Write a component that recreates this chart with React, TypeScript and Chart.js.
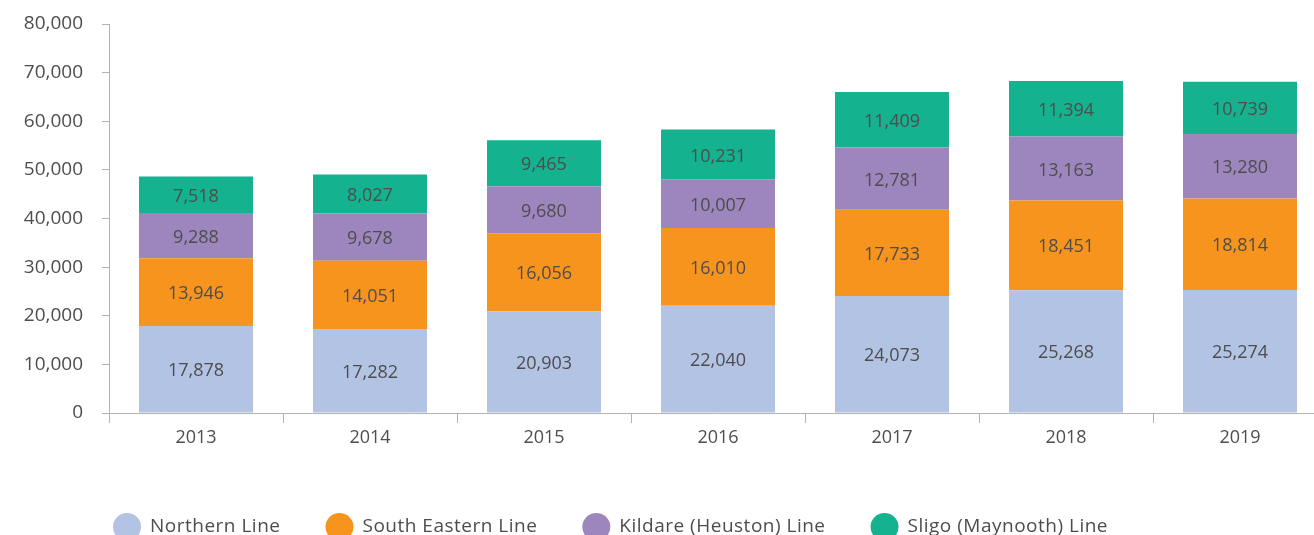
import React, { useEffect, useRef } from "react";
import { Chart, registerables } from "chart.js";

Chart.register(...registerables);

const categories = ["2013", "2014", "2015", "2016", "2017", "2018", "2019"];
const northernLine = [17878, 17282, 20903, 22040, 24073, 25268, 25274];
const southEasternLine = [13946, 14051, 16056, 16010, 17733, 18451, 18814];
const kildareLine = [9288, 9678, 9680, 10007, 12781, 13163, 13280];
const sligoLine = [7518, 8027, 9465, 10231, 11409, 11394, 10739];
const seriesNames = [
  "Northern Line",
  "South Eastern Line",
  "Kildare (Heuston) Line",
  "Sligo (Maynooth) Line",
];
const seriesColors = ["#B3C3E3", "#F7941E", "#9D86BD", "#15B28F"];
const yMax = 80000;
const yStep = 10000;

const FONT_FAMILY = "'Open Sans', sans-serif";
const FONT_SIZE = 18;
const TEXT_COLOR = "#4d4d4d";
const AXIS_COLOR = "#b3b3b3";

const fmt = (v: number) => Number(v).toLocaleString("en-US");

const barLabelPlugin = {
  id: "barLabels",
  afterDatasetsDraw(chart: any) {
    const ctx = chart.ctx;
    ctx.save();
    ctx.font = `${FONT_SIZE}px ${FONT_FAMILY}`;
    ctx.fillStyle = TEXT_COLOR;
    ctx.textAlign = "center";
    ctx.textBaseline = "middle";
    chart.data.datasets.forEach((ds: any, i: number) => {
      const meta = chart.getDatasetMeta(i);
      meta.data.forEach((el: any, j: number) => {
        const { x, y, base } = el.getProps(["x", "y", "base"], true);
        ctx.fillText(fmt(ds.data[j]), x, (y + base) / 2 + 2);
      });
    });
    ctx.restore();
  },
};

const legendPlugin = {
  id: "bottomLegend",
  afterDraw(chart: any) {
    const ctx = chart.ctx;
    const r = 14;
    const cy = 527;
    const textGap = 9;
    const itemGap = 45;
    let x = 113;
    ctx.save();
    ctx.font = `19px ${FONT_FAMILY}`;
    try {
      (ctx as any).letterSpacing = "0.5px";
    } catch (e) {}
    ctx.textAlign = "left";
    ctx.textBaseline = "middle";
    chart.data.datasets.forEach((ds: any) => {
      ctx.fillStyle = ds.backgroundColor;
      ctx.beginPath();
      ctx.arc(x + r, cy, r, 0, Math.PI * 2);
      ctx.fill();
      ctx.fillStyle = TEXT_COLOR;
      const tx = x + 2 * r + textGap;
      ctx.fillText(ds.label, tx, cy);
      x = tx + ctx.measureText(ds.label).width + itemGap;
    });
    ctx.restore();
  },
};

export default function App() {
  const canvasRef = useRef<HTMLCanvasElement | null>(null);

  useEffect(() => {
    if (!canvasRef.current) return;
    const values = [northernLine, southEasternLine, kildareLine, sligoLine];
    const font = { family: FONT_FAMILY, size: FONT_SIZE };
    const chart = new Chart(canvasRef.current, {
      type: "bar",
      data: {
        labels: categories,
        datasets: values.map((d, i) => ({
          label: seriesNames[i],
          data: d,
          backgroundColor: seriesColors[i],
          borderWidth: 0,
          barPercentage: 0.655,
          categoryPercentage: 1,
        })),
      },
      options: {
        responsive: false,
        animation: false,
        layout: { padding: { top: 24, right: 3, left: 0, bottom: 0 } },
        plugins: {
          legend: { display: false },
          tooltip: { enabled: false },
        },
        scales: {
          x: {
            stacked: true,
            grid: {
              offset: true,
              drawOnChartArea: false,
              drawTicks: true,
              tickLength: 10,
              color: AXIS_COLOR,
            },
            border: { color: AXIS_COLOR, width: 1 },
            ticks: { font, color: TEXT_COLOR, padding: 4 },
            afterFit: (scale: any) => {
              scale.height = 122;
              scale.paddingLeft = 0;
              scale.paddingRight = 0;
            },
          },
          y: {
            stacked: true,
            min: 0,
            max: yMax,
            grid: {
              drawOnChartArea: false,
              drawTicks: true,
              tickLength: 7,
              color: AXIS_COLOR,
            },
            border: { color: AXIS_COLOR, width: 1 },
            ticks: {
              stepSize: yStep,
              font: { family: FONT_FAMILY, size: 19 },
              color: TEXT_COLOR,
              padding: 19,
              callback: (v: any) => fmt(Number(v)),
            },
            afterFit: (scale: any) => {
              scale.width = 109;
              scale.paddingTop = 0;
              scale.paddingBottom = 0;
            },
          },
        },
      },
      plugins: [barLabelPlugin, legendPlugin],
    } as any);
    return () => chart.destroy();
  }, []);

  return (
    <div
      style={{
        position: "absolute",
        left: 0,
        top: 0,
        width: 1314,
        height: 535,
        overflow: "hidden",
        background: "#fff",
      }}
    >
      <canvas
        ref={canvasRef}
        width={1330}
        height={535}
        style={{ display: "block" }}
      />
    </div>
  );
}
